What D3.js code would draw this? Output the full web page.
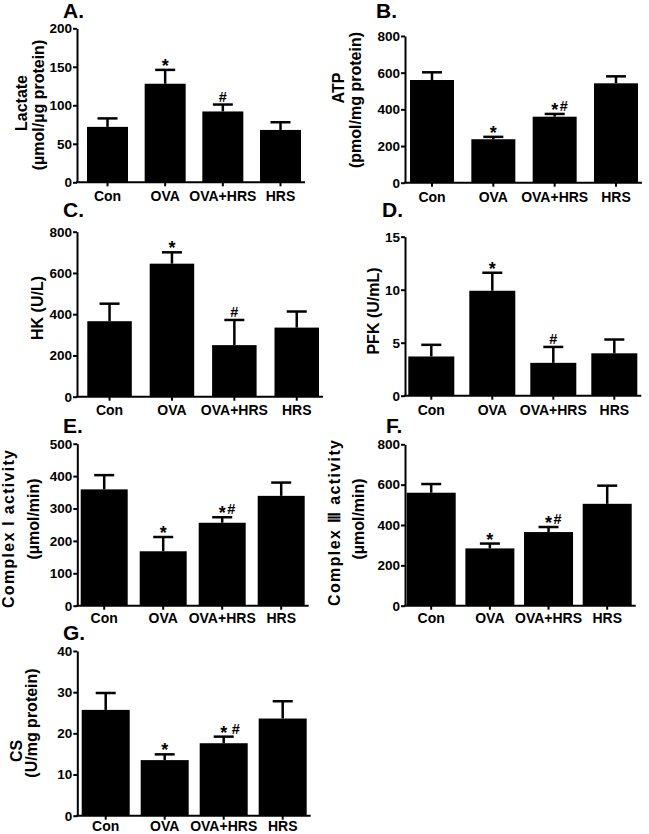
<!DOCTYPE html>
<html><head><meta charset="utf-8">
<script src="https://cdn.jsdelivr.net/npm/d3@7"></script>
<style>
body{margin:0;background:#fff}
svg text{font-family:"Liberation Sans",Arial,sans-serif;font-weight:bold;fill:#000}
</style>
</head><body><svg id="c" width="649" height="834"></svg>
<script>
const categories = ["Con", "OVA", "OVA+HRS", "HRS"];

const lactateMean = [72, 128, 92, 68];
const lactateSem = [11, 18, 9, 10];
const lactateMarks = ["", "*", "#", ""];
const lactateTicks = [0, 50, 100, 150, 200];

const atpMean = [560, 237, 360, 542];
const atpSem = [42, 13, 15, 38];
const atpMarks = ["", "*", "*#", ""];
const atpTicks = [0, 200, 400, 600, 800];

const hkMean = [366, 645, 250, 335];
const hkSem = [85, 55, 122, 78];
const hkMarks = ["", "*", "#", ""];
const hkTicks = [0, 200, 400, 600, 800];

const pfkMean = [3.7, 9.9, 3.1, 4.0];
const pfkSem = [1.1, 1.7, 1.5, 1.3];
const pfkMarks = ["", "*", "#", ""];
const pfkTicks = [0, 5, 10, 15];

const c1Mean = [359, 168, 256, 339];
const c1Sem = [44, 44, 17, 41];
const c1Marks = ["", "*", "*#", ""];
const c1Ticks = [0, 100, 200, 300, 400, 500];

const c3Mean = [560, 284, 365, 505];
const c3Sem = [43, 24, 25, 90];
const c3Marks = ["", "*", "*#", ""];
const c3Ticks = [0, 200, 400, 600, 800];

const csMean = [25.7, 13.5, 17.6, 23.6];
const csSem = [4.1, 1.4, 1.6, 4.2];
const csMarks = ["", "*", "* #", ""];
const csTicks = [0, 10, 20, 30, 40];

const panels = [
  {letter: "A.", mean: lactateMean, sem: lactateSem, marks: lactateMarks, ticks: lactateTicks,
   titles: [{t: "Lactate", x: 27, y: 103}, {t: "(\u00b5mol/\u00b5g protein)", x: 44, y: 105}],
   L: {axisX: 77, y0: 182.3, yTop: 28.3, barStart: 87, barEnd: 301, barW: 41, lx: 63, ly: 18, labDy: 19}},
  {letter: "B.", mean: atpMean, sem: atpSem, marks: atpMarks, ticks: atpTicks,
   titles: [{t: "ATP", x: 344, y: 88}, {t: "(pmol/mg protein)", x: 361, y: 100}],
   L: {axisX: 405, y0: 182.7, yTop: 36, barStart: 410, barEnd: 638, barW: 44, lx: 376, ly: 18, labDy: 19}},
  {letter: "C.", mean: hkMean, sem: hkSem, marks: hkMarks, ticks: hkTicks,
   titles: [{t: "HK (U/L)", x: 43, y: 308}],
   L: {axisX: 77, y0: 396.7, yTop: 231.7, barStart: 87.3, barEnd: 319, barW: 44.5, lx: 63, ly: 217, labDy: 18.5}},
  {letter: "D.", mean: pfkMean, sem: pfkSem, marks: pfkMarks, ticks: pfkTicks,
   titles: [{t: "PFK (U/mL)", x: 379, y: 311}],
   L: {axisX: 405, y0: 395.7, yTop: 236.7, barStart: 408.3, barEnd: 637.3, barW: 46, lx: 382, ly: 217, labDy: 19}},
  {letter: "E.", mean: c1Mean, sem: c1Sem, marks: c1Marks, ticks: c1Ticks,
   titles: [{t: "Complex I activity", x: 14, y: 529, len: 158}, {t: "(\u00b5mol/min)", x: 38.5, y: 519}],
   L: {axisX: 77.3, y0: 605.7, yTop: 443.7, barStart: 80.7, barEnd: 304.7, barW: 47, lx: 63, ly: 433, labDy: 17.5}},
  {letter: "F.", mean: c3Mean, sem: c3Sem, marks: c3Marks, ticks: c3Ticks,
   titles: [{t: "Complex \u2162 activity", x: 340, y: 523, len: 166}, {t: "(\u00b5mol/min)", x: 364, y: 519}],
   L: {axisX: 405, y0: 605.7, yTop: 444.3, barStart: 406.7, barEnd: 631.7, barW: 49, lx: 386, ly: 433, labDy: 17.5}},
  {letter: "G.", mean: csMean, sem: csSem, marks: csMarks, ticks: csTicks,
   titles: [{t: "CS", x: 22, y: 751}, {t: "(U/mg protein)", x: 37, y: 723}],
   L: {axisX: 77.3, y0: 815.7, yTop: 651, barStart: 81.7, barEnd: 306.7, barW: 48, lx: 63, ly: 640, labDy: 15}}
];

const svg = d3.select("#c");

panels.forEach(p => {
  const L = p.L;
  const s = (L.barEnd - L.barStart - L.barW) / 3;
  const gap = s - L.barW;
  const x = d3.scaleBand().domain(categories)
    .range([L.barStart - gap / 2, L.barEnd + gap / 2])
    .paddingInner(gap / s).paddingOuter(gap / s / 2);
  const y = d3.scaleLinear().domain([0, d3.max(p.ticks)]).range([L.y0, L.yTop]);
  const g = svg.append("g");
  const cx = c => x(c) + x.bandwidth() / 2;

  const rows = categories.map((c, i) => ({c, m: p.mean[i], e: p.mean[i] + p.sem[i], mk: p.marks[i]}));

  // error bars (upper)
  const eb = g.append("g").attr("stroke", "#000").attr("stroke-width", 2.5);
  eb.selectAll("line.v").data(rows).join("line").attr("class", "v")
    .attr("x1", d => cx(d.c)).attr("x2", d => cx(d.c))
    .attr("y1", d => y(d.m)).attr("y2", d => y(d.e));
  eb.selectAll("line.h").data(rows).join("line").attr("class", "h")
    .attr("x1", d => cx(d.c) - 10).attr("x2", d => cx(d.c) + 10)
    .attr("y1", d => y(d.e)).attr("y2", d => y(d.e));

  // bars
  g.selectAll("rect").data(rows).join("rect")
    .attr("x", d => x(d.c)).attr("width", x.bandwidth())
    .attr("y", d => y(d.m)).attr("height", d => y(0) - y(d.m))
    .attr("fill", "#000");

  // significance marks: first symbol centred on the bar, later ones follow to the right
  rows.filter(d => d.mk).forEach(d => {
    const chars = d.mk.split("");
    let off = 0;
    chars.forEach((ch, k) => {
      if (ch === " ") { off += 3; return; }
      const px = cx(d.c) + (k === 0 ? 0 : off + 9);
      g.append("text")
        .attr("x", px)
        .attr("y", ch === "*" ? y(d.e) + 2 : y(d.e) - 3)
        .attr("text-anchor", "middle")
        .attr("font-size", ch === "*" ? 18 : 14.5)
        .text(ch);
    });
  });

  // y axis
  const ya = g.append("g").attr("transform", `translate(${L.axisX},0)`)
    .call(d3.axisLeft(y).tickValues(p.ticks).tickSize(4).tickSizeOuter(0).tickPadding(1));
  ya.select(".domain").attr("stroke-width", 2);
  ya.selectAll(".tick line").attr("stroke-width", 2);
  ya.selectAll("text").attr("font-size", 13.5).attr("font-family", null);

  // x axis
  const xa = g.append("g").attr("transform", `translate(0,${L.y0})`)
    .call(d3.axisBottom(x).tickSize(4).tickSizeOuter(0));
  xa.select(".domain").remove();
  xa.selectAll(".tick line").attr("stroke-width", 2);
  xa.selectAll("text").attr("font-size", 14).attr("font-family", null).attr("dy", null).attr("y", L.labDy);
  g.append("line").attr("x1", L.axisX - 1).attr("x2", L.barEnd + 4)
    .attr("y1", L.y0).attr("y2", L.y0).attr("stroke", "#000").attr("stroke-width", 2);

  // titles
  p.titles.forEach(t => {
    const tx = g.append("text").attr("transform", `translate(${t.x},${t.y}) rotate(-90)`)
      .attr("text-anchor", "middle").attr("font-size", 16).text(t.t);
    if (t.len) tx.attr("textLength", t.len).attr("lengthAdjust", "spacing");
  });

  // panel letter
  g.append("text").attr("x", L.lx).attr("y", L.ly).attr("font-size", 21).text(p.letter);
});
</script>
</body></html>
